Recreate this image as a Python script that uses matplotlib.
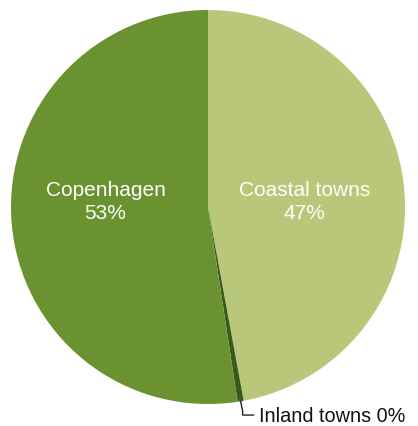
import matplotlib.pyplot as plt
import numpy as np

plt.rcParams['font.family'] = ['Liberation Sans', 'DejaVu Sans']

regions = ['Coastal towns', 'Inland towns', 'Copenhagen']
shares = [47.1, 0.5, 52.4]
shown = ['47%', '0%', '53%']
colors = ['#b8c779', '#3a5a1c', '#6b9230']

fig = plt.figure(figsize=(4.18, 4.27), dpi=100)
ax = fig.add_axes([11 / 418, 22 / 427, 394 / 418, 394 / 427])

wedges, _ = ax.pie(shares, colors=colors, startangle=90,
                   counterclock=False, wedgeprops=dict(linewidth=0))
ax.set_xlim(-1, 1)
ax.set_ylim(-1, 1)
ax.set_aspect('equal')

# big slice labels
ax.text(0.49, 0.03, regions[0] + '\n' + shown[0], color='white', fontsize=15,
        ha='center', va='center', linespacing=1.3)
ax.text(-0.52, 0.03, regions[2] + '\n' + shown[2], color='white', fontsize=15,
        ha='center', va='center', linespacing=1.3)

# leader for the tiny slice
w = wedges[1]
mid = np.deg2rad((w.theta1 + w.theta2) / 2)
x0, y0 = np.cos(mid), np.sin(mid)
ax.plot([x0, x0 + 0.01, x0 + 0.01, x0 + 0.065], [y0, y0 - 0.05, y0 - 0.07, y0 - 0.07],
        color='#222222', lw=1, clip_on=False)
ax.text(x0 + 0.095, y0 - 0.07, regions[1] + ' ' + shown[1], fontsize=14.3,
        color='#111111', ha='left', va='center', clip_on=False)

fig.savefig('out.png', dpi=100)
